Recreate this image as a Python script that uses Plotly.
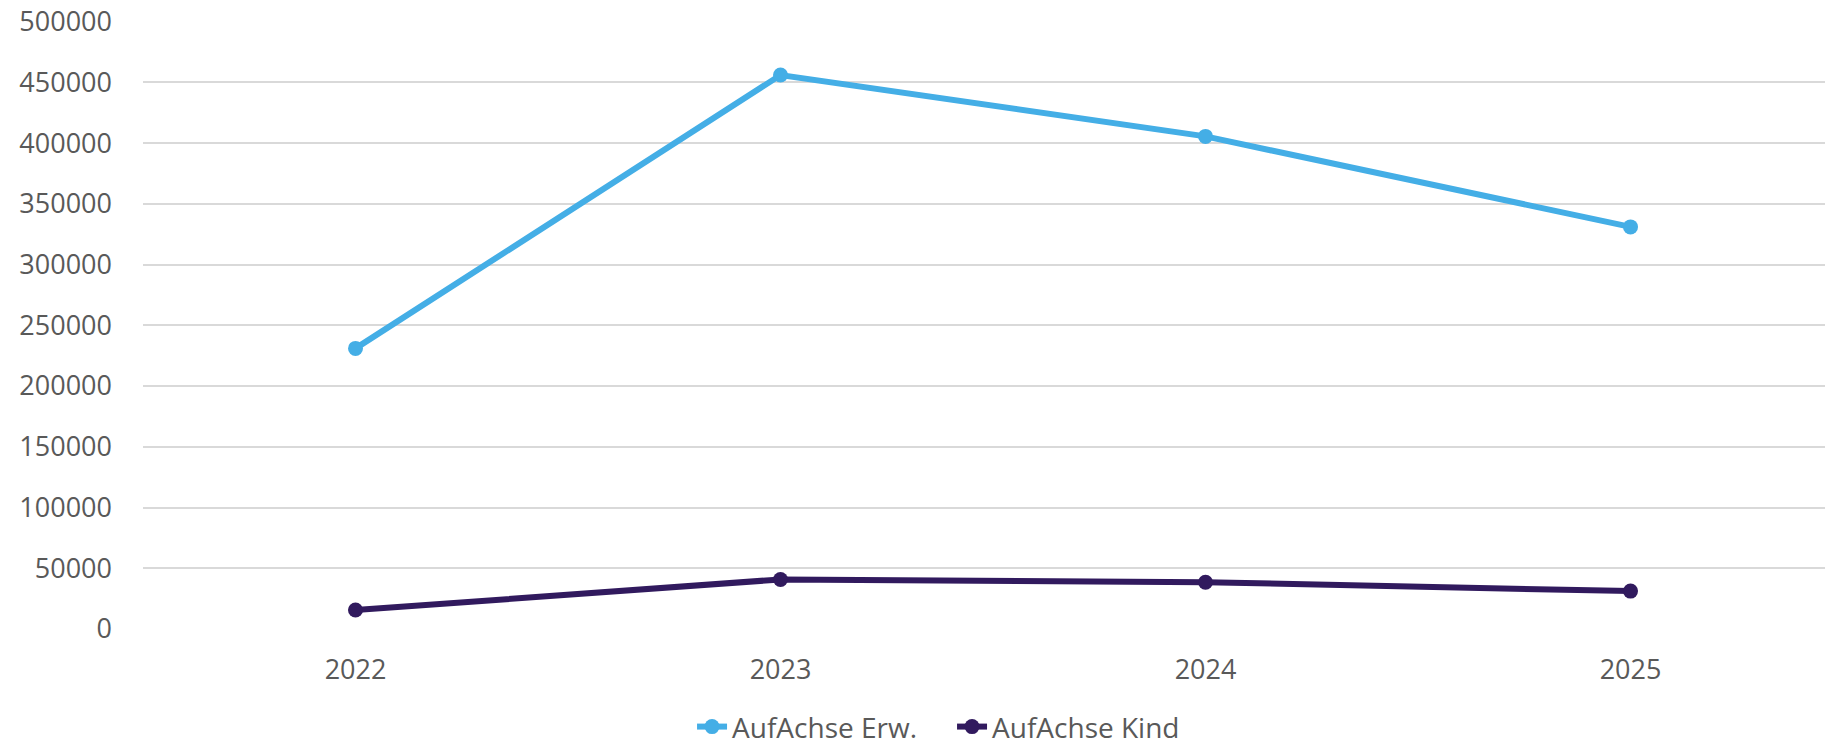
import plotly.graph_objects as go

years = ["2022", "2023", "2024", "2025"]
erw = [231000, 456000, 405500, 331000]
kind = [15600, 40800, 38500, 31200]
y_ticks = [0, 50000, 100000, 150000, 200000, 250000, 300000, 350000, 400000, 450000, 500000]

font_family = "Open Sans"
text_color = "#595959"

fig = go.Figure()
fig.add_trace(go.Scatter(
    x=years, y=erw, name="AufAchse Erw.", mode="lines+markers",
    line=dict(color="#44AEE6", width=6), marker=dict(size=15, color="#44AEE6"),
))
fig.add_trace(go.Scatter(
    x=years, y=kind, name="AufAchse Kind", mode="lines+markers",
    line=dict(color="#311A5E", width=6), marker=dict(size=15, color="#311A5E"),
))

fig.update_layout(
    width=1825, height=747,
    margin=dict(l=143, r=0, t=21, b=118, autoexpand=False),
    paper_bgcolor="white", plot_bgcolor="white",
    font=dict(family=font_family, size=27, color=text_color),
    showlegend=True,
    legend=dict(orientation="h", x=0.481, xanchor="center", y=-0.161, yanchor="middle",
                font=dict(size=28, color=text_color), entrywidth=215),
    xaxis=dict(type="category", range=[-0.5, 3.4576], showgrid=False, zeroline=False,
               showline=False, ticks="", tickfont=dict(size=27, color=text_color),
               ticklabelstandoff=22, automargin=False),
    yaxis=dict(range=[0, 500500], tickvals=y_ticks, ticktext=[str(v) for v in y_ticks],
               showgrid=True, gridcolor="#D9D9D9", gridwidth=2, zeroline=False,
               showline=False, ticks="", tickfont=dict(size=27, color=text_color),
               ticklabelstandoff=30, automargin=False),
)

fig.write_html("out.html", config={"displayModeBar": False},
               post_script="document.body.style.margin='0';document.body.style.overflow='hidden';")
